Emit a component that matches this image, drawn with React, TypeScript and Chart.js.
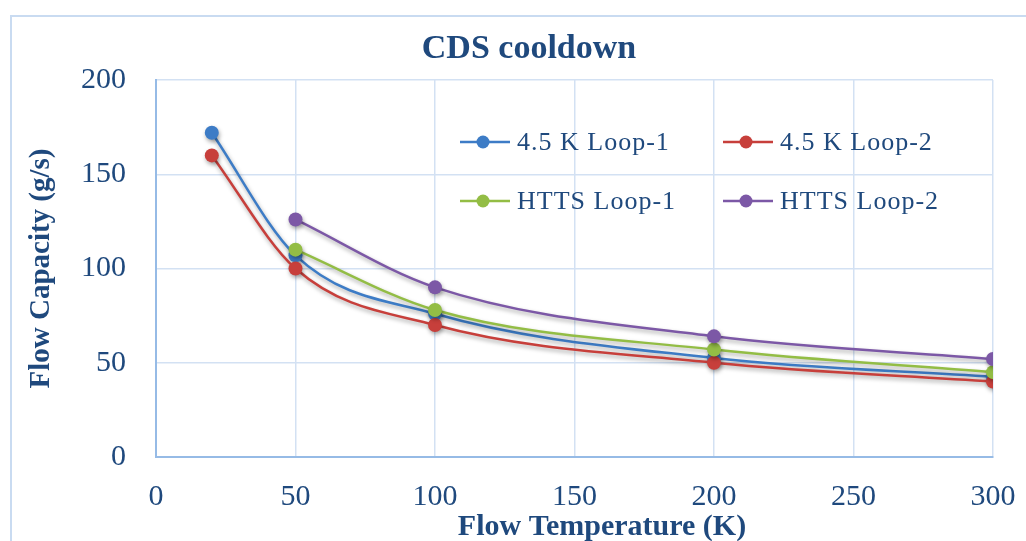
import React, { useEffect, useRef } from "react";
import { Chart, registerables } from "chart.js";

Chart.register(...registerables);

const chartTitle = "CDS cooldown";
const xAxisTitle = "Flow Temperature (K)";
const yAxisTitle = "Flow Capacity (g/s)";

const temps45K = [20, 50, 100, 200, 300];
const cap45KLoop1 = [172, 107, 76, 52.5, 42.5];
const cap45KLoop2 = [160, 100, 70, 50, 40];
const tempsHTTS = [50, 100, 200, 300];
const capHTTSLoop1 = [110, 78, 57, 45];
const capHTTSLoop2 = [126, 90, 64, 52];

const seriesNames = ["4.5 K Loop-1", "4.5 K Loop-2", "HTTS Loop-1", "HTTS Loop-2"];
const seriesColors = ["#3d7cc6", "#c73f3b", "#93bd45", "#7c58a6"];

const xMin = 0;
const xMax = 300;
const xStep = 50;
const yMin = 0;
const yMax = 200;
const yStep = 50;

const TEXT_COLOR = "#1f497d";
const SERIF = "'Liberation Serif', 'Times New Roman', serif";

const toPoints = (xs: number[], ys: number[]) => xs.map((x, i) => ({ x, y: ys[i] }));

const shadowPlugin = {
  id: "shadowPlugin",
  beforeDatasetsDraw(chart: any) {
    const ctx = chart.ctx;
    ctx.save();
    ctx.shadowColor = "rgba(0,0,0,0.35)";
    ctx.shadowBlur = 4;
    ctx.shadowOffsetX = 1;
    ctx.shadowOffsetY = 2.5;
  },
  afterDatasetsDraw(chart: any) {
    chart.ctx.restore();
  },
};

const textPlugin = {
  id: "textPlugin",
  afterDraw(chart: any) {
    const ctx = chart.ctx;
    ctx.save();
    ctx.fillStyle = TEXT_COLOR;
    ctx.textAlign = "center";
    ctx.textBaseline = "alphabetic";
    ctx.font = `bold 34px ${SERIF}`;
    ctx.fillText(chartTitle, 529, 58);
    ctx.font = `bold 30px ${SERIF}`;
    ctx.fillText(xAxisTitle, 602, 535);

    // legend
    const cols = [460, 723];
    const rows = [142, 201];
    ctx.font = `26px ${SERIF}`;
    ctx.textAlign = "left";
    ctx.textBaseline = "middle";
    try {
      (ctx as any).letterSpacing = "1px";
    } catch (e) {}
    chart.data.datasets.forEach((ds: any, i: number) => {
      const x = cols[i % 2];
      const y = rows[Math.floor(i / 2)];
      ctx.strokeStyle = ds.borderColor;
      ctx.lineWidth = 2.5;
      ctx.beginPath();
      ctx.moveTo(x, y);
      ctx.lineTo(x + 50, y);
      ctx.stroke();
      ctx.fillStyle = ds.backgroundColor;
      ctx.beginPath();
      ctx.arc(x + 23, y, 6.5, 0, Math.PI * 2);
      ctx.fill();
      ctx.fillStyle = TEXT_COLOR;
      ctx.fillText(ds.label, x + 57, y + 1);
    });
    ctx.restore();
  },
};

export default function App() {
  const canvasRef = useRef<HTMLCanvasElement | null>(null);

  useEffect(() => {
    if (!canvasRef.current) return;
    const series = [
      toPoints(temps45K, cap45KLoop1),
      toPoints(temps45K, cap45KLoop2),
      toPoints(tempsHTTS, capHTTSLoop1),
      toPoints(tempsHTTS, capHTTSLoop2),
    ];
    const chart = new Chart(canvasRef.current, {
      type: "line",
      data: {
        datasets: series.map((data, i) => ({
          label: seriesNames[i],
          data,
          borderColor: seriesColors[i],
          backgroundColor: seriesColors[i],
          pointBackgroundColor: seriesColors[i],
          pointBorderColor: seriesColors[i],
          borderWidth: 2.5,
          pointRadius: 7,
          pointBorderWidth: 0,
          cubicInterpolationMode: "monotone",
          order: 4 - i,
        })),
      },
      options: {
        animation: false,
        responsive: true,
        maintainAspectRatio: false,
        layout: { padding: { top: 80, right: 33, bottom: 0, left: 24 } },
        plugins: {
          legend: { display: false },
          title: { display: false },
          tooltip: { enabled: false },
        },
        scales: {
          x: {
            type: "linear",
            min: xMin,
            max: xMax,
            grid: { color: "#d3e1f3", lineWidth: 1.5, drawTicks: false },
            border: { color: "#96bbe6", width: 2 },
            ticks: {
              stepSize: xStep,
              padding: 22,
              color: TEXT_COLOR,
              font: { family: SERIF, size: 30 },
            },
            afterFit(scale: any) {
              scale.height = 84;
              scale.paddingLeft = 0;
              scale.paddingRight = 0;
            },
          },
          y: {
            min: yMin,
            max: yMax,
            grid: { color: "#d3e1f3", lineWidth: 1.5, drawTicks: false },
            border: { color: "#96bbe6", width: 2 },
            ticks: {
              stepSize: yStep,
              padding: 30,
              color: TEXT_COLOR,
              font: { family: SERIF, size: 30 },
            },
            title: {
              display: true,
              text: yAxisTitle,
              color: TEXT_COLOR,
              font: { family: SERIF, size: 29, weight: "bold" },
              padding: { top: 0, bottom: 0 },
            },
            afterFit(scale: any) {
              scale.width = 132;
            },
          },
        },
      },
      plugins: [shadowPlugin, textPlugin],
    });
    return () => chart.destroy();
  }, []);

  return (
    <div style={{ position: "fixed", left: 0, top: 0, width: 1026, height: 541, background: "#fff", overflow: "hidden" }}>
      <div
        style={{
          position: "absolute",
          left: 10,
          top: 15,
          width: 1100,
          height: 600,
          borderLeft: "2px solid #c9dbf1",
          borderTop: "2px solid #c9dbf1",
        }}
      />
      <div style={{ position: "absolute", left: 0, top: 0, width: 1026, height: 541 }}>
        <canvas ref={canvasRef} />
      </div>
    </div>
  );
}
